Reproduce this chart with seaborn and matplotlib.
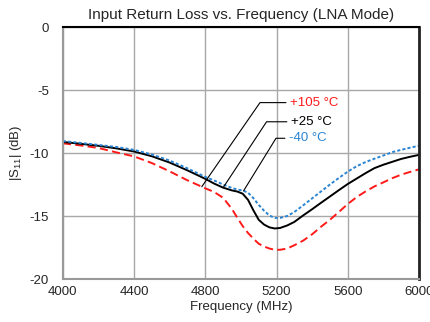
import numpy as np
import pandas as pd
import matplotlib
matplotlib.use("Agg")
import matplotlib.pyplot as plt
import seaborn as sns

# S11 traces (MHz, dB)
freq = [4000, 4100, 4200, 4300, 4400, 4500, 4600, 4700, 4800, 4850, 4900, 4950,
        4980, 5010, 5040, 5070, 5100, 5130, 5160, 5190, 5220, 5260, 5300, 5350,
        5400, 5450, 5500, 5550, 5600, 5650, 5700, 5750, 5800, 5850, 5900, 5950, 6000]
s11_105c = [-9.23, -9.4, -9.6, -9.95, -10.27, -10.8, -11.46, -12.17, -12.8, -13.1,
            -13.55, -14.45, -15.15, -15.8, -16.35, -16.8, -17.2, -17.42, -17.58,
            -17.68, -17.68, -17.58, -17.32, -16.95, -16.45, -15.85, -15.3, -14.68,
            -14.05, -13.5, -13.05, -12.65, -12.33, -12.0, -11.72, -11.5, -11.3]
s11_25c = [-9.12, -9.27, -9.43, -9.63, -9.88, -10.26, -10.76, -11.38, -12.05, -12.43,
           -12.75, -12.97, -13.06, -13.23, -13.72, -14.55, -15.3, -15.68, -15.9,
           -15.99, -15.95, -15.75, -15.47, -14.95, -14.46, -13.95, -13.45, -12.95,
           -12.46, -12.03, -11.6, -11.2, -10.93, -10.7, -10.47, -10.3, -10.15]
s11_m40c = [-9.05, -9.2, -9.36, -9.52, -9.75, -10.12, -10.6, -11.22, -11.9, -12.18,
            -12.5, -12.78, -12.9, -12.97, -13.15, -13.58, -14.12, -14.58, -14.96,
            -15.15, -15.15, -15.0, -14.68, -14.15, -13.6, -13.05, -12.5, -11.98,
            -11.48, -11.05, -10.72, -10.45, -10.2, -9.93, -9.75, -9.58, -9.42]
labels = ["+105 °C", "+25 °C", "-40 °C"]
colors = ["#ff1a1a", "#000000", "#2a84d2"]

# leader lines: where they touch the curve, and where the label sits
touch_freq = [4780, 4900, 5015]
elbow = [(5107, -6.0), (5144, -7.52), (5197, -8.83)]
label_x = [5253, 5258, 5247]

sns.set_theme(style="white")
plt.rcParams["font.family"] = ["Liberation Sans", "DejaVu Sans"]
plt.rcParams["mathtext.fontset"] = "custom"
plt.rcParams["mathtext.rm"] = "Liberation Sans"
plt.rcParams["axes.unicode_minus"] = False

df = pd.DataFrame({
    "freq": freq * 3,
    "s11": s11_105c + s11_25c + s11_m40c,
    "temp": [labels[0]] * len(freq) + [labels[1]] * len(freq) + [labels[2]] * len(freq),
})

fig = plt.figure(figsize=(4.31, 3.22), dpi=100)
ax = fig.add_axes([0.146, 0.1335, 0.826, 0.7826])

sns.lineplot(data=df, x="freq", y="s11", hue="temp", style="temp",
             palette=dict(zip(labels, colors)),
             dashes={labels[0]: (4.2, 2.2), labels[1]: "", labels[2]: (1.6, 1.1)},
             linewidth=1.4, legend=False, ax=ax)

series = [s11_105c, s11_25c, s11_m40c]
for i in range(3):
    y0 = np.interp(touch_freq[i], freq, series[i])
    ex, ey = elbow[i]
    ax.plot([touch_freq[i], ex, label_x[i]], [y0, ey, ey], color="black", lw=0.8)
    ax.text(label_x[i] + 25, ey, labels[i], color=colors[i], fontsize=9.5, va="center")

ax.set_xlim(4000, 6000)
ax.set_ylim(-20, 0)
ax.set_xticks(np.arange(4000, 6001, 400))
ax.set_yticks(np.arange(-20, 1, 5))
ax.grid(True, color="#a8a8a8", lw=1)
ax.tick_params(length=0, labelsize=9.5)
ax.tick_params(axis="y", pad=10)
ax.tick_params(axis="x", pad=5)

for side in ["left", "bottom"]:
    ax.spines[side].set_color("#999999")
    ax.spines[side].set_linewidth(1.5)
ax.spines["top"].set_color("black")
ax.spines["top"].set_linewidth(1.5)
ax.spines["right"].set_color("#222222")
ax.spines["right"].set_linewidth(2)

ax.set_title("Input Return Loss vs. Frequency (LNA Mode)", fontsize=11, pad=6)
ax.set_xlabel("Frequency (MHz)", fontsize=9.5, labelpad=2)
ax.set_ylabel(r"|S$_{11}$| (dB)", fontsize=9.5, labelpad=4)

fig.savefig("out.png", dpi=100)
